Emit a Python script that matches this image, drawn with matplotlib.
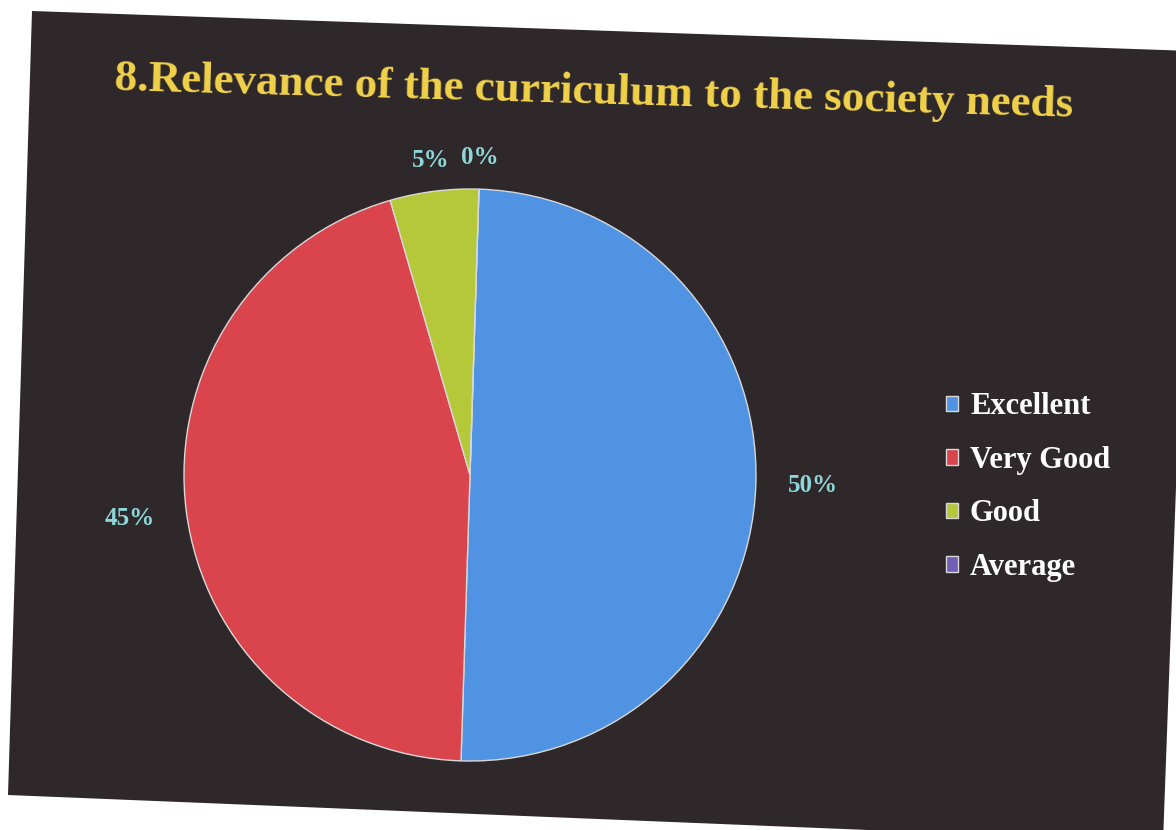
import matplotlib
matplotlib.use("Agg")
import matplotlib.pyplot as plt
import numpy as np
from matplotlib.patches import Polygon

categories = ["Excellent", "Very Good", "Good", "Average"]
values = [50, 45, 5, 0]
colors = ["#4f93e2", "#d9444d", "#b4c83a", "#6f5fb5"]
title = "8.Relevance of the curriculum to the society needs"

W, H = 1176, 830
fig = plt.figure(figsize=(W / 100, H / 100), dpi=100)
fig.patch.set_facecolor("white")

def px(x, y):
    return (x / W, 1 - y / H)

bg = Polygon([px(32, 11), px(1192, 51), px(1163, 842), px(8, 795)],
             closed=True, transform=fig.transFigure, facecolor="#2e282b",
             edgecolor="none", zorder=-5)
fig.patches.append(bg)

serif = ["Liberation Serif", "DejaVu Serif"]

fig.text(*px(594, 92), title, ha="center", va="center", fontsize=32.5,
         fontweight="bold", color="#f2d24a", family=serif, rotation=-1.6)

cx, cy, r = 470, 475, 286
ax = fig.add_axes([(cx - r) / W, (H - cy - r) / H, 2 * r / W, 2 * r / H])
ax.set_facecolor("none")
wedges, texts = ax.pie(
    values, colors=colors, startangle=88.2, counterclock=False,
    wedgeprops=dict(edgecolor="#d8d8d8", linewidth=1.0),
)
label_dist = [1.2, 1.2, 1.11, 1.11]
for w, v, d in zip(wedges, values, label_dist):
    mid = np.deg2rad((w.theta1 + w.theta2) / 2)
    ax.text(d * np.cos(mid), d * np.sin(mid), f"{v}%", ha="center", va="center",
            color="#8fd6d8", fontsize=18, fontweight="bold", family=serif,
            clip_on=False)
ax.set_xlim(-1, 1)
ax.set_ylim(-1, 1)
ax.set_aspect("equal")
ax.axis("off")

leg = fig.legend(wedges, categories, loc="upper left",
                 bbox_to_anchor=px(918, 365), frameon=False,
                 prop=dict(family=serif, weight="bold", size=22),
                 labelcolor="white", handlelength=0.4, handleheight=0.4,
                 handletextpad=0.4, labelspacing=0.8)

fig.savefig("out.png", dpi=100, facecolor=fig.get_facecolor())
